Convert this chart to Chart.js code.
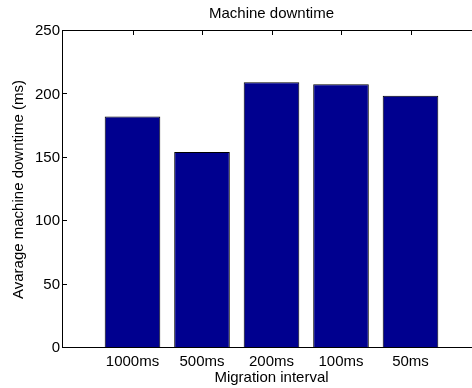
<!DOCTYPE html>
<html>
<head>
<meta charset="utf-8">
<script src="https://cdn.jsdelivr.net/npm/chart.js@4.4.1/dist/chart.umd.min.js"></script>
<style>
	html, body { margin: 0; padding: 0; overflow: hidden; background: #fff; }
	canvas { display: block; }
</style>
</head>
<body>
<canvas id="downtime-chart" width="490" height="388"></canvas>
<script>
const intervals = ['1000ms', '500ms', '200ms', '100ms', '50ms'];
const downtimes = [182.5, 154.5, 209.5, 208, 199];
const yTicks = [0, 50, 100, 150, 200, 250];

const FONT = { family: "'Liberation Sans', Arial, Helvetica, sans-serif", size: 15 };

Chart.defaults.color = '#000';
Chart.defaults.font.family = FONT.family;

// matlab style box with inward ticks
const axesBox = {
	id: 'axesBox',
	beforeDatasetsDraw(chart) {
		const { ctx, chartArea: a, scales } = chart;
		ctx.save();
		ctx.strokeStyle = '#000';
		ctx.lineWidth = 1;
		ctx.beginPath();
		for (let i = 1; i <= intervals.length; i++) {
			const x = Math.round(scales.x.getPixelForValue(i)) + 0.5;
			ctx.moveTo(x, a.top);
			ctx.lineTo(x, a.top + 4);
			ctx.moveTo(x, a.bottom);
			ctx.lineTo(x, a.bottom - 4);
		}
		yTicks.forEach(v => {
			const y = Math.round(scales.y.getPixelForValue(v)) - 0.5;
			ctx.moveTo(a.left, y);
			ctx.lineTo(a.left + 4, y);
			ctx.moveTo(a.right, y);
			ctx.lineTo(a.right - 4, y);
		});
		ctx.stroke();
		ctx.restore();
	},
	afterDatasetsDraw(chart) {
		const { ctx, chartArea: a } = chart;
		ctx.save();
		ctx.strokeStyle = '#000';
		ctx.lineWidth = 1;
		ctx.strokeRect(Math.round(a.left) - 0.5, Math.round(a.top) - 0.5,
			Math.round(a.right - a.left), Math.round(a.bottom - a.top));
		ctx.restore();
	}
};

new Chart(
	document.getElementById('downtime-chart'),
	{
		type: 'bar',
		data: {
			datasets: [
				{
					label: 'Avarage machine downtime (ms)',
					data: intervals.map((name, i) => ({ x: i + 1, y: downtimes[i] })),
					backgroundColor: 'rgb(0,0,143)',
					borderColor: '#000',
					borderWidth: 1,
					barPercentage: 1,
					categoryPercentage: 0.8,
				},
			]
		},
		options: {
			responsive: false,
			animation: false,
			layout: {
				padding: { left: 0, right: 10, top: 0, bottom: 0 },
			},
			plugins: {
				legend: { display: false },
				tooltip: { enabled: false },
				title: {
					display: true,
					text: 'Machine downtime',
					fullSize: false,
					color: '#000',
					font: { ...FONT, weight: 'normal' },
					padding: { top: 5, bottom: 8 },
				},
			},
			scales: {
				x: {
					type: 'linear',
					min: 0,
					max: 6,
					offset: false,
					grid: { display: false, drawTicks: false },
					border: { display: false },
					ticks: {
						stepSize: 1,
						autoSkip: false,
						maxRotation: 0,
						padding: 5,
						font: FONT,
						color: '#000',
						callback: v => (Number.isInteger(v) && v >= 1 && v <= intervals.length) ? intervals[v - 1] : '',
					},
					title: {
						display: true,
						text: 'Migration interval',
						font: FONT,
						color: '#000',
						padding: { top: 0, bottom: 1 },
					},
					afterFit(scale) { scale.height = 40; },
				},
				y: {
					min: 0,
					max: 250,
					grid: { display: false, drawTicks: false },
					border: { display: false },
					ticks: {
						stepSize: 50,
						padding: 3,
						font: FONT,
						color: '#000',
					},
					title: {
						display: true,
						text: 'Avarage machine downtime (ms)',
						font: FONT,
						color: '#000',
						padding: { top: 9.5, bottom: 0 },
					},
					afterFit(scale) { scale.width = 63; },
				}
			}
		},
		plugins: [axesBox],
	}
);
</script>
</body>
</html>
